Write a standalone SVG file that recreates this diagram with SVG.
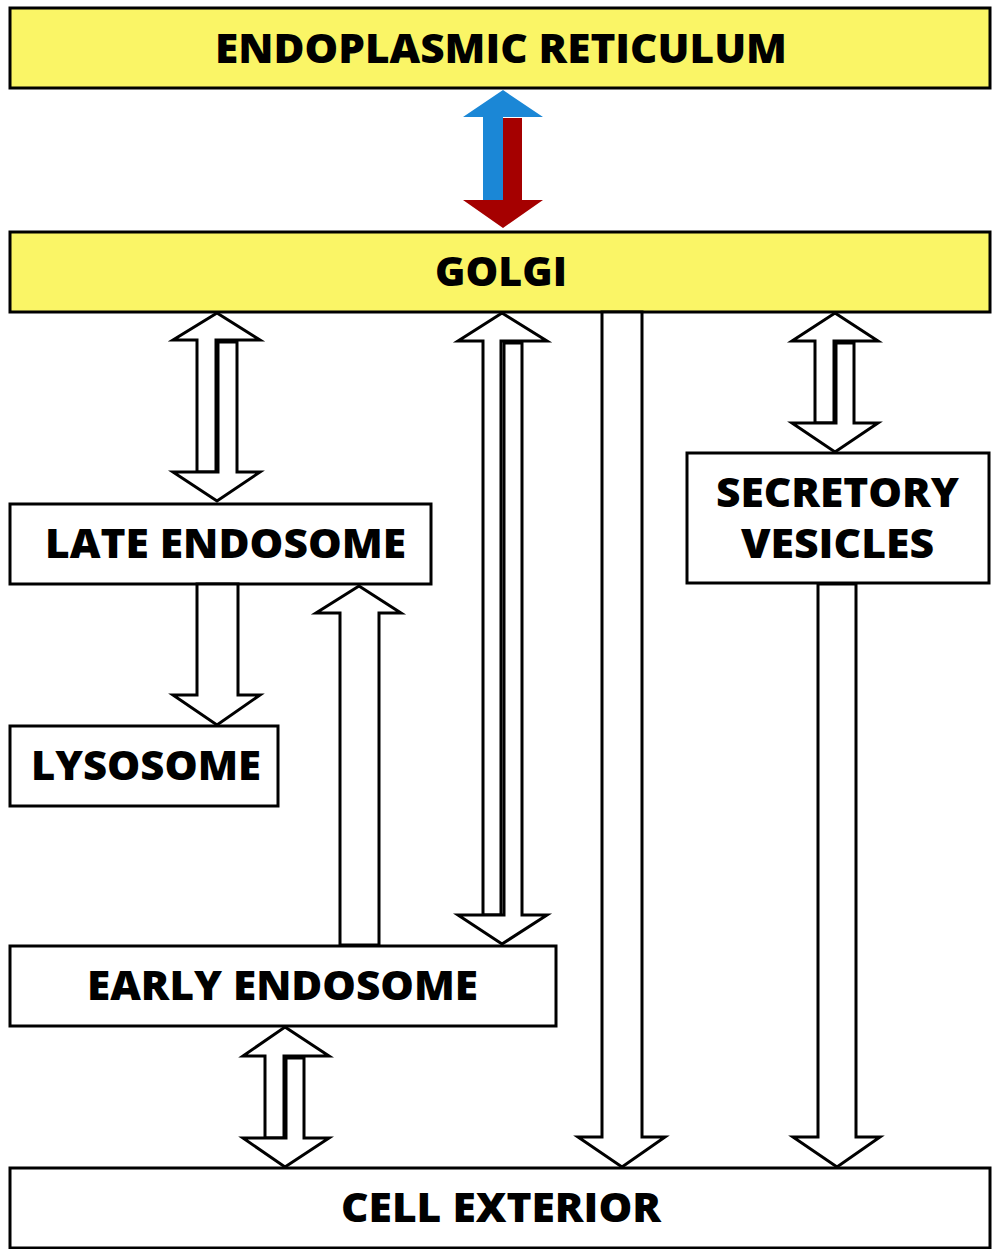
<svg xmlns="http://www.w3.org/2000/svg" width="998" height="1249" viewBox="0 0 998 1249">
<style>
.box{stroke:#000;stroke-width:3}
.y{fill:#faf566}
.w{fill:#fff}
.t{font-family:"Open Sans","Liberation Sans",sans-serif;font-weight:800;font-size:40px;fill:#000;text-anchor:middle}
.ar{fill:#fff;stroke:#000;stroke-width:3;stroke-linejoin:miter}
</style>
<rect width="998" height="1249" fill="#fff"/>
<g id="er"><rect class="box y" x="10" y="8" width="980" height="80"/><text class="t" x="501" y="63" textLength="572" lengthAdjust="spacingAndGlyphs">ENDOPLASMIC RETICULUM</text></g>
<g id="golgi"><rect class="box y" x="10" y="232" width="980" height="80"/><text class="t" x="501" y="286" textLength="132" lengthAdjust="spacingAndGlyphs">GOLGI</text></g>
<g id="late-endosome"><rect class="box w" x="10" y="504" width="421" height="80"/><text class="t" x="225.5" y="558" textLength="361" lengthAdjust="spacingAndGlyphs">LATE ENDOSOME</text></g>
<g id="lysosome"><rect class="box w" x="10" y="726" width="268" height="80"/><text class="t" x="146" y="780" textLength="230" lengthAdjust="spacingAndGlyphs">LYSOSOME</text></g>
<g id="early-endosome"><rect class="box w" x="10" y="946" width="546" height="80"/><text class="t" x="282.5" y="1000" textLength="391" lengthAdjust="spacingAndGlyphs">EARLY ENDOSOME</text></g>
<g id="secretory-vesicles"><rect class="box w" x="687" y="453" width="302" height="130"/><text class="t" x="837.5" y="507" textLength="243" lengthAdjust="spacingAndGlyphs">SECRETORY</text><text class="t" x="837.5" y="558" textLength="193" lengthAdjust="spacingAndGlyphs">VESICLES</text></g>
<g id="cell-exterior"><rect class="box w" x="10" y="1168" width="980" height="80"/><text class="t" x="501" y="1222" textLength="320" lengthAdjust="spacingAndGlyphs">CELL EXTERIOR</text></g>
<g id="connectors">
<!-- ER <-> Golgi colored -->
<polygon fill="#1b87d6" points="503,90 543,117 503,117 503,200 483,200 483,117 463,117"/>
<polygon fill="#a50000" points="503,118 522,118 522,200 543,200 503,228 463,200 503,200"/>
<!-- Golgi <-> Late endosome -->
<polygon class="ar" points="217,313 260,340 216,340 216,472 197,472 197,340 173,340"/>
<polygon class="ar" points="218,342 237,342 237,472 260,472 217,501 173,472 218,472"/>
<!-- Late endosome -> Lysosome -->
<polygon class="ar" points="197,584 238,584 238,695 260,695 217,725 173,695 197,695"/>
<!-- Early endosome -> Late endosome -->
<polygon class="ar" points="359,586 401,613 379,613 379,945 340,945 340,613 316,613"/>
<!-- Golgi <-> Early endosome -->
<polygon class="ar" points="502,313 547,341 501,341 501,915 483,915 483,341 458,341"/>
<polygon class="ar" points="504,343 522,343 522,915 547,915 502,944 458,915 504,915"/>
<!-- Golgi -> Cell exterior -->
<polygon class="ar" points="602,312 642,312 642,1137 665,1137 622,1167 578,1137 602,1137"/>
<!-- Golgi <-> Secretory vesicles -->
<polygon class="ar" points="835,313 878,341 834,341 834,423 815,423 815,341 792,341"/>
<polygon class="ar" points="836,343 854,343 854,423 878,423 835,452 792,423 836,423"/>
<!-- Secretory vesicles -> Cell exterior -->
<polygon class="ar" points="818,584 856,584 856,1137 880,1137 837,1167 793,1137 818,1137"/>
<!-- Early endosome <-> Cell exterior -->
<polygon class="ar" points="285,1027 329,1056 284,1056 284,1138 265,1138 265,1056 243,1056"/>
<polygon class="ar" points="286,1058 304,1058 304,1138 329,1138 285,1167 243,1138 286,1138"/>
</g>
</svg>
